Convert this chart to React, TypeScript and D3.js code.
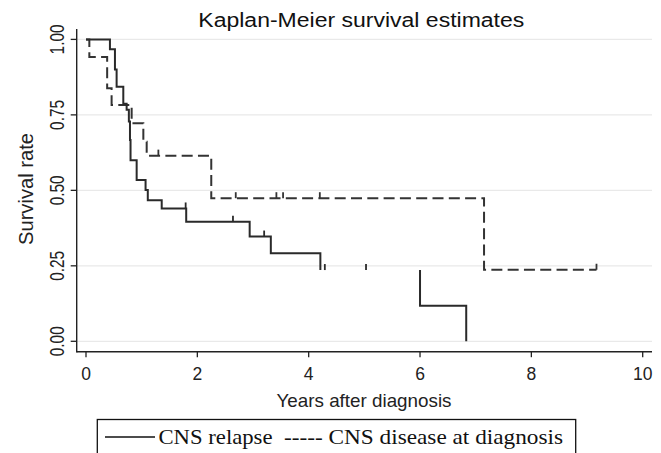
import React from "react";
import * as d3 from "d3";

const title = "Kaplan-Meier survival estimates";
const xLabel = "Years after diagnosis";
const yLabel = "Survival rate";
const xTicks = [0, 2, 4, 6, 8, 10];
const yTicks = [0, 0.25, 0.5, 0.75, 1];

// CNS relapse (solid) — step points, NaN separates a gap in the drawn curve
const relapseTimes = [0, 0.43, 0.52, 0.55, 0.67, 0.73, 0.77, 0.79, 0.8, 0.91, 1.07, 1.11, 1.36, 1.8, 2.94, 3.32, 4.21, NaN, 6.0, 6.0, 6.83];
const relapseSurv = [1, 0.967, 0.9, 0.843, 0.787, 0.767, 0.728, 0.667, 0.6, 0.534, 0.501, 0.467, 0.44, 0.396, 0.347, 0.292, 0.236, NaN, 0.236, 0.118, 0];
const relapseCensor = [1.79, 2.64, 3.2, 4.29, 5.03];

// CNS disease at diagnosis (dashed)
const diagTimes = [0, 0.06, 0.38, 0.46, 0.82, 1.03, 1.09, 2.25, 7.15, 9.17];
const diagSurv = [1, 0.942, 0.838, 0.783, 0.722, 0.661, 0.615, 0.474, 0.237, 0.237];
const diagCensor = [1.3, 2.69, 3.42, 3.54, 4.2, 9.17];

const legendSolid = "CNS relapse";
const legendDashed = "----- CNS disease at diagnosis";

function survAt(times: number[], surv: number[], t: number) {
  let s = surv[0];
  for (let i = 0; i < times.length; i++) {
    if (!isNaN(times[i]) && times[i] <= t) s = surv[i];
  }
  return s;
}

export default function App() {
  const W = 661, H = 453;
  const x = d3.scaleLinear().domain([0, 10]).range([86, 642.7]);
  const y = d3.scaleLinear().domain([0, 1]).range([341.3, 39.4]);
  const axisX = 76.7, axisY = 351.7, plotRight = 652, plotTop = 29;

  const line = d3
    .line<[number, number]>()
    .defined((d) => !isNaN(d[0]))
    .x((d) => x(d[0]))
    .y((d) => y(d[1]))
    .curve(d3.curveStepAfter);

  const relapsePts = relapseTimes.map((t, i) => [t, relapseSurv[i]] as [number, number]);
  const diagPts = diagTimes.map((t, i) => [t, diagSurv[i]] as [number, number]);

  const tickFont = "'Liberation Sans', Arial, sans-serif";
  const serif = "'Liberation Serif', 'Times New Roman', serif";

  return (
    <svg width={W} height={H} style={{ position: "absolute", left: 0, top: 0, background: "#fff" }}>
      <rect x={0} y={0} width={W} height={H} fill="#fff" />
      {/* gridlines */}
      {yTicks.map((v) => (
        <line key={"g" + v} x1={axisX} x2={plotRight} y1={y(v)} y2={y(v)} stroke="#e9e9e9" strokeWidth={1.2} />
      ))}
      {/* axes */}
      <line x1={axisX} x2={axisX} y1={plotTop} y2={axisY + 0.7} stroke="#222" strokeWidth={1.4} />
      <line x1={axisX} x2={plotRight} y1={axisY} y2={axisY} stroke="#222" strokeWidth={1.4} />
      {yTicks.map((v) => (
        <g key={"yt" + v}>
          <line x1={axisX - 6} x2={axisX} y1={y(v)} y2={y(v)} stroke="#222" strokeWidth={1.3} />
          <text
            transform={`translate(63.5,${y(v)}) rotate(-90)`}
            textAnchor="middle"
            fontFamily={tickFont}
            fontSize={21}
            textLength={30}
            lengthAdjust="spacingAndGlyphs"
            fill="#222"
          >
            {d3.format(".2f")(v)}
          </text>
        </g>
      ))}
      {xTicks.map((v) => (
        <g key={"xt" + v}>
          <line x1={x(v)} x2={x(v)} y1={axisY} y2={axisY + 5.5} stroke="#222" strokeWidth={1.3} />
          <text x={x(v)} y={379.5} textAnchor="middle" fontFamily={tickFont} fontSize={17.5} fill="#222">
            {v}
          </text>
        </g>
      ))}
      {/* title and labels */}
      <text x={361.3} y={27.3} textAnchor="middle" fontFamily={tickFont} fontSize={19.5} textLength={326} lengthAdjust="spacingAndGlyphs" fill="#111">
        {title}
      </text>
      <text x={364} y={406.7} textAnchor="middle" fontFamily={tickFont} fontSize={17.7} textLength={175} lengthAdjust="spacingAndGlyphs" fill="#222">
        {xLabel}
      </text>
      <text transform={`translate(33.3,189) rotate(-90)`} textAnchor="middle" fontFamily={tickFont} fontSize={20} textLength={112} lengthAdjust="spacingAndGlyphs" fill="#222">
        {yLabel}
      </text>
      {/* curves */}
      <path d={line(diagPts) || ""} fill="none" stroke="#333" strokeWidth={2} strokeDasharray="11,5.3" />
      <path d={line(relapsePts) || ""} fill="none" stroke="#2a2a2a" strokeWidth={2} />
      {/* censor ticks */}
      {relapseCensor.map((t, i) => (
        <line key={"rc" + i} x1={x(t)} x2={x(t)} y1={y(survAt(relapseTimes, relapseSurv, t))} y2={y(survAt(relapseTimes, relapseSurv, t)) - 6} stroke="#2a2a2a" strokeWidth={1.8} />
      ))}
      {diagCensor.map((t, i) => (
        <line key={"dc" + i} x1={x(t)} x2={x(t)} y1={y(survAt(diagTimes, diagSurv, t))} y2={y(survAt(diagTimes, diagSurv, t)) - 6} stroke="#333" strokeWidth={1.8} />
      ))}
      {/* legend */}
      <rect x={97.3} y={419.5} width={478.4} height={50} fill="none" stroke="#111" strokeWidth={1.3} />
      <line x1={105} x2={155} y1={437} y2={437} stroke="#111" strokeWidth={1.5} />
      <text x={158.5} y={444} fontFamily={serif} fontSize={21} textLength={114} lengthAdjust="spacingAndGlyphs" fill="#111">
        {legendSolid}
      </text>
      <text x={284} y={444} fontFamily={serif} fontSize={21} textLength={279} lengthAdjust="spacingAndGlyphs" fill="#111">
        {legendDashed}
      </text>
    </svg>
  );
}
